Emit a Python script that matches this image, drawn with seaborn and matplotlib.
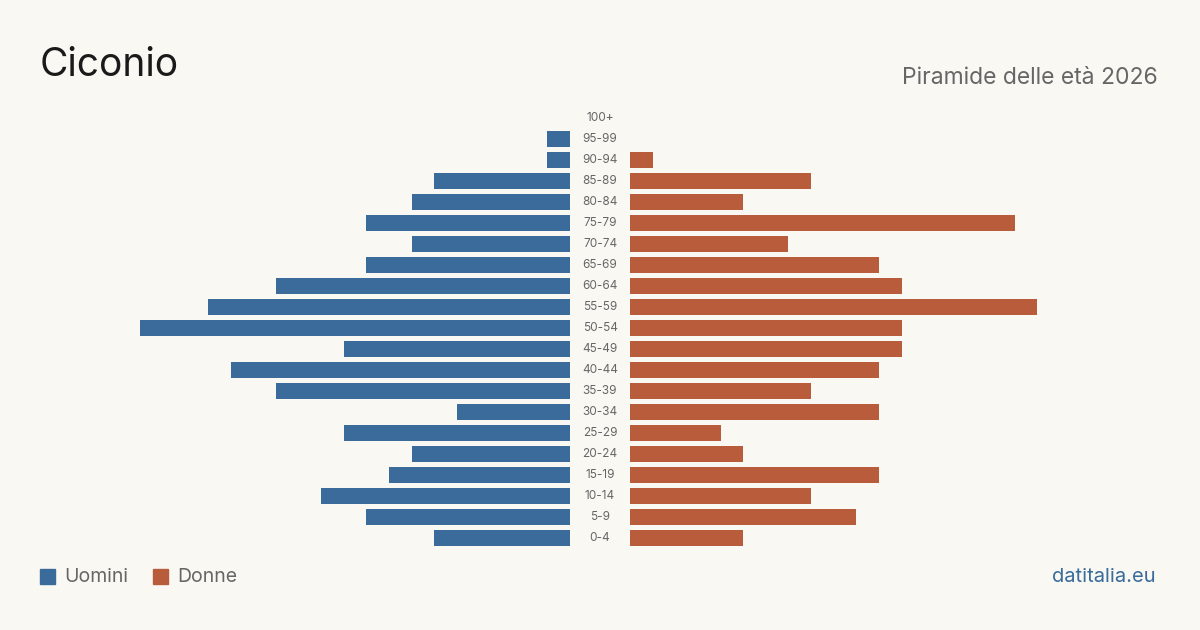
import matplotlib
matplotlib.use('Agg')
import matplotlib.pyplot as plt
import seaborn as sns
import pandas as pd

# Data
age_groups = ['100+', '95-99', '90-94', '85-89', '80-84', '75-79', '70-74',
              '65-69', '60-64', '55-59', '50-54', '45-49', '40-44', '35-39',
              '30-34', '25-29', '20-24', '15-19', '10-14', '5-9', '0-4']
uomini = [0, 1, 1, 6, 7, 9, 7, 9, 13, 16, 19, 10, 15, 13, 5, 10, 7, 8, 11, 9, 6]
donne = [0, 0, 1, 8, 5, 17, 7, 11, 12, 18, 12, 12, 11, 8, 11, 4, 5, 11, 8, 10, 5]

BG = '#f9f8f3'
BLUE = '#3a6b9b'
ORANGE = '#b95c3c'
GREY = '#666666'

df = pd.DataFrame({'eta': age_groups, 'uomini': uomini, 'donne': donne})
vmax = max(max(uomini), max(donne))

sns.set_theme(style='white')
plt.rcParams['font.family'] = ['Inter', 'DejaVu Sans']

fig = plt.figure(figsize=(12, 6.3), dpi=100, facecolor=BG)
ax_l = fig.add_axes([140 / 1200, 1 - 548.5 / 630, 430 / 1200, 441 / 630])
ax_r = fig.add_axes([630 / 1200, 1 - 548.5 / 630, 430 / 1200, 441 / 630])

sns.barplot(data=df, x='uomini', y='eta', order=age_groups, color=BLUE,
            width=0.8, saturation=1, linewidth=0, ax=ax_l)
sns.barplot(data=df, x='donne', y='eta', order=age_groups, color=ORANGE,
            width=0.8, saturation=1, linewidth=0, ax=ax_r)

ax_l.set_xlim(vmax, 0)
ax_r.set_xlim(0, vmax)
for ax in (ax_l, ax_r):
    ax.set_facecolor('none')
    ax.set_ylim(len(age_groups) - 0.5, -0.5)
    ax.set_xlabel('')
    ax.set_ylabel('')
    ax.set_xticks([])
    ax.set_yticks([])
    for s in ax.spines.values():
        s.set_visible(False)

# age labels in the middle gap
for i, lab in enumerate(age_groups):
    ax_r.text(-30 / 430 * vmax, i, lab, ha='center', va='center',
              fontsize=8.5, color=GREY, clip_on=False)

fig.text(40 / 1200, 1 - 66 / 630, 'Ciconio', fontsize=28, color='#1a1a1a',
         ha='left', va='center')
fig.text(1158 / 1200, 1 - 78 / 630, 'Piramide delle età 2026', fontsize=16.5,
         color=GREY, ha='right', va='center')

# legend
fig.patches.append(plt.Rectangle((40 / 1200, 1 - 584 / 630), 15 / 1200, 15 / 630,
                                 transform=fig.transFigure, color=BLUE))
fig.text(64 / 1200, 1 - 577 / 630, 'Uomini', fontsize=14, color=GREY,
         ha='left', va='center')
fig.patches.append(plt.Rectangle((153 / 1200, 1 - 584 / 630), 15 / 1200, 15 / 630,
                                 transform=fig.transFigure, color=ORANGE))
fig.text(177 / 1200, 1 - 577 / 630, 'Donne', fontsize=14, color=GREY,
         ha='left', va='center')

fig.text(1156 / 1200, 1 - 577 / 630, 'datitalia.eu', fontsize=14.5, color=BLUE,
         ha='right', va='center')

fig.savefig('out.png', dpi=100, facecolor=BG)
